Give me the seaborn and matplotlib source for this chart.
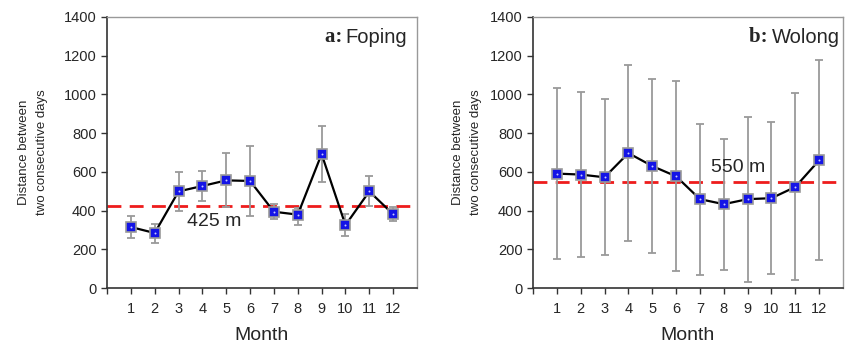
import numpy as np
import pandas as pd
import matplotlib
matplotlib.use("Agg")
import matplotlib.pyplot as plt
import seaborn as sns

months = list(range(1, 13))

foping_mean = [315, 284, 499, 527, 556, 553, 394, 379, 692, 325, 499, 381]
foping_upper = [370, 329, 599, 604, 697, 732, 432, 415, 835, 384, 578, 418]
foping_lower = [257, 234, 400, 449, 418, 372, 355, 325, 549, 269, 424, 345]
foping_ref = 425

wolong_mean = [591, 586, 572, 697, 630, 577, 459, 433, 459, 464, 522, 660]
wolong_upper = [1031, 1012, 974, 1153, 1081, 1067, 849, 771, 884, 857, 1005, 1178]
wolong_lower = [151, 161, 172, 241, 180, 86, 67, 93, 31, 70, 40, 143]
wolong_ref = 550

sns.set_style("white")
plt.rcParams["font.family"] = ["Liberation Sans", "DejaVu Sans"]

fig = plt.figure(figsize=(8.48, 3.52), dpi=100)
ax_a = fig.add_axes([107 / 848, 1 - 288 / 352, 310 / 848, 271 / 352])
ax_b = fig.add_axes([533 / 848, 1 - 288 / 352, 310 / 848, 271 / 352])


def draw_panel(ax, mean, upper, lower, ref, letter, site, ref_xy, label_x):
    df = pd.DataFrame({"month": months, "dist": mean})
    mean_a = np.array(mean)
    yerr = [mean_a - np.array(lower), np.array(upper) - mean_a]
    ax.errorbar(months, mean, yerr=yerr, fmt="none", ecolor="#9a9a9a",
                elinewidth=1.3, capsize=3, capthick=1.3, zorder=2)
    ax.axhline(ref, color="#ee1c1c", lw=2, dashes=(5, 3), zorder=1)
    sns.lineplot(data=df, x="month", y="dist", ax=ax, color="black", lw=1.6,
                 marker="s", markersize=6.5, markerfacecolor="#1414e6",
                 markeredgecolor="#9a9a9a", markeredgewidth=1.2, zorder=3)
    ax.scatter(months, mean, s=2, color="#c8c8ff", zorder=4, linewidths=0)

    ax.set_xlim(0, 13)
    ax.set_ylim(0, 1400)
    ax.set_xticks(range(0, 13))
    ax.set_xticklabels([""] + [str(m) for m in months], fontsize=10.5)
    ax.set_yticks(range(0, 1401, 200))
    ax.set_yticklabels([str(v) for v in range(0, 1401, 200)], fontsize=10.5)
    ax.tick_params(axis="both", direction="out", length=4, width=1,
                   color="#333333", bottom=True, left=True)
    ax.tick_params(axis="x", pad=6)
    for side in ("left", "bottom"):
        ax.spines[side].set_color("#333333")
        ax.spines[side].set_linewidth(1.2)
    for side in ("top", "right"):
        ax.spines[side].set_color("#999999")
        ax.spines[side].set_linewidth(1)

    ax.set_xlabel("Month", fontsize=14, labelpad=8)
    ax.set_ylabel("Distance between\ntwo consecutive days", fontsize=9.5,
                  linespacing=1.7)
    ax.yaxis.set_label_coords(label_x, 0.5)
    ax.text(ref_xy[0], ref_xy[1], f"{ref} m", fontsize=14,
            ha="center", va="center")
    ax.text(0.775, 0.925, f"{letter}: ", transform=ax.transAxes,
            fontsize=15, fontweight="bold", family="Liberation Serif",
            ha="right", va="center")
    ax.text(0.77, 0.925, site, transform=ax.transAxes, fontsize=14.5,
            ha="left", va="center")


draw_panel(ax_a, foping_mean, foping_upper, foping_lower, foping_ref,
           "a", "Foping", (4.5, 344), -0.19)
draw_panel(ax_b, wolong_mean, wolong_upper, wolong_lower, wolong_ref,
           "b", "Wolong", (8.6, 622), -0.165)

fig.savefig("out.png", dpi=100)
